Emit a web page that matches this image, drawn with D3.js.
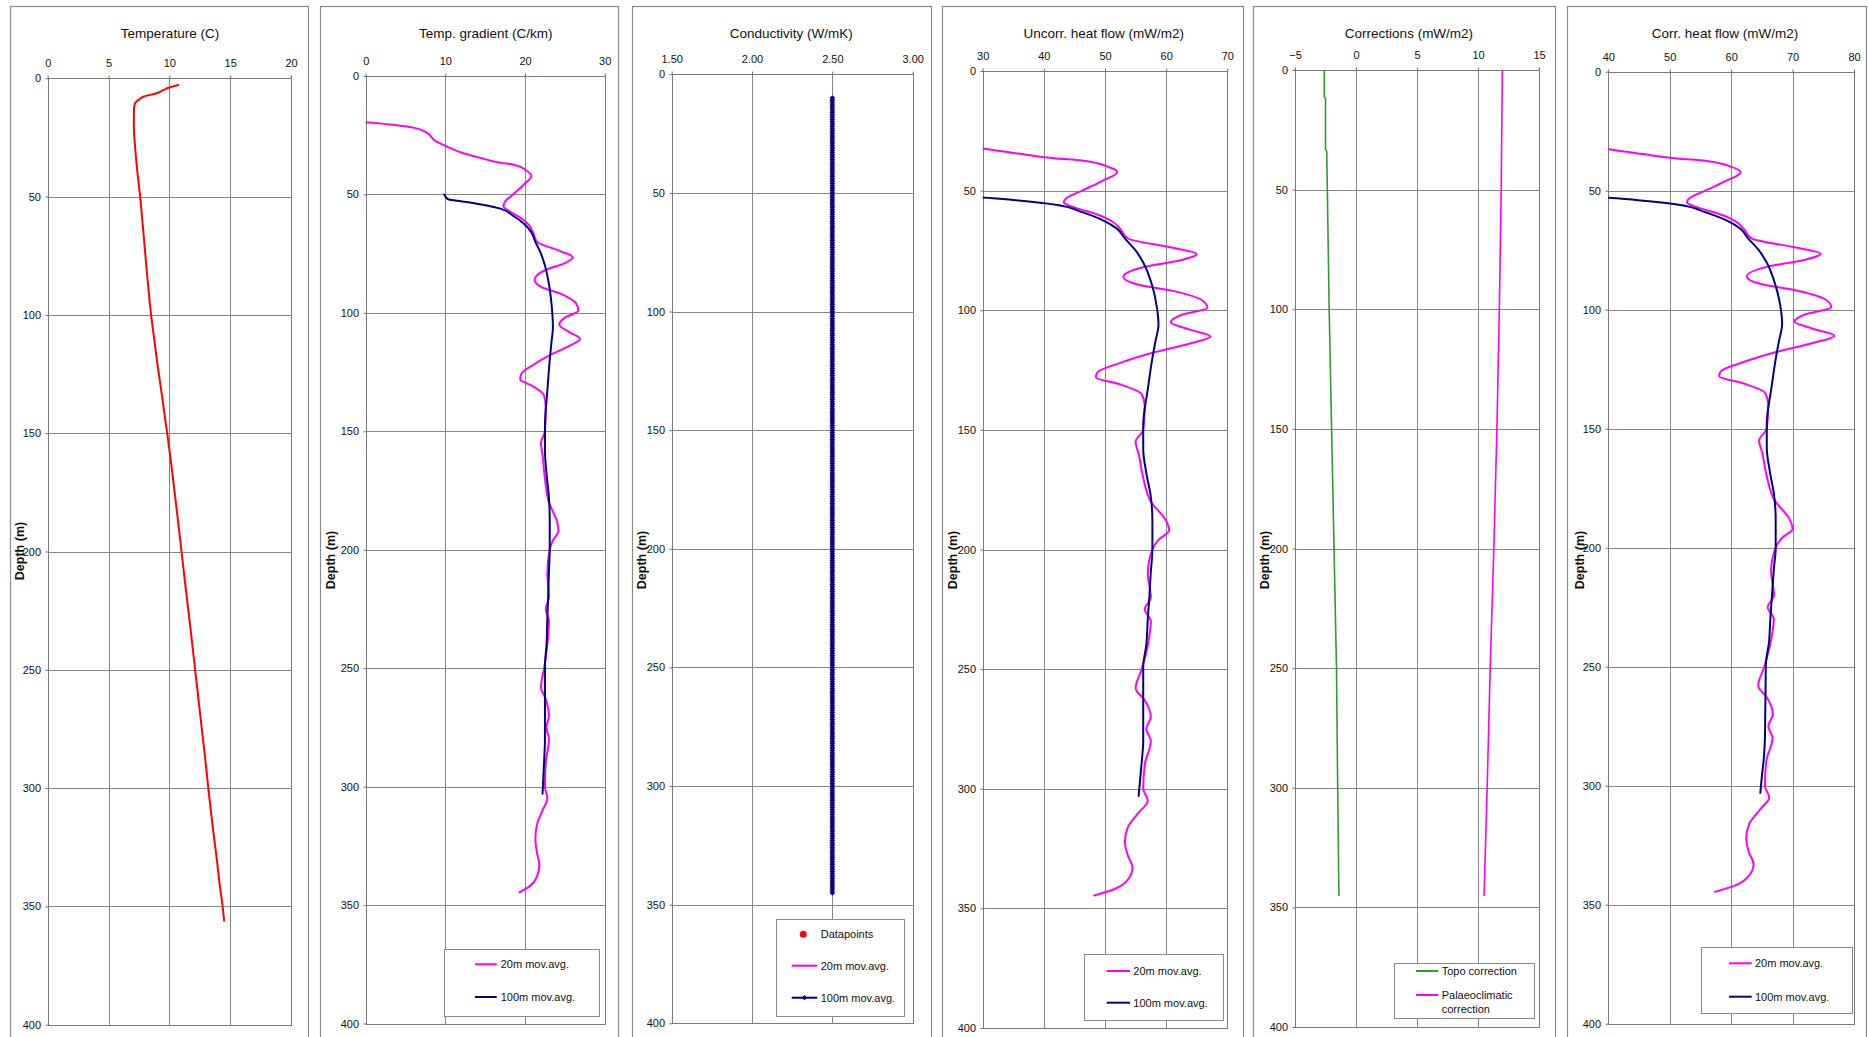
<!DOCTYPE html>
<html>
<head>
<meta charset="utf-8">
<script src="https://cdn.jsdelivr.net/npm/d3@7"></script>
<style>
  body { margin: 0; background: #fff; }
  svg { display: block; font-family: "Liberation Sans", Arial, sans-serif; }
</style>
</head>
<body>
<svg id="chart" width="1868" height="1037"></svg>
<script>
// ---- depth axis (shared by every track) ----
const depthTicks = [0, 50, 100, 150, 200, 250, 300, 350, 400];

// ---- temperature log: [depth m, temperature C] ----
const temperature = [
  [2.8,10.73],[3.8,10.05],[5,9.5],[6.3,8.95],[7.8,7.86],[9,7.5],[10.6,7.17],[13.4,7.09],
  [20,7.08],[30,7.2],[40,7.38],[50,7.6],[60,7.78],[70,7.95],[80,8.12],[90,8.3],[100,8.5],
  [110,8.75],[120,9.0],[130,9.28],[140,9.55],[150,9.82],[160,10.08],[170,10.32],[180,10.55],
  [190,10.78],[200,11.0],[210,11.22],[220,11.45],[230,11.68],[240,11.9],[250,12.12],
  [260,12.34],[270,12.56],[280,12.78],[290,13.0],[300,13.2],[310,13.42],[320,13.65],
  [330,13.9],[340,14.12],[350,14.38],[356,14.5]
];

// ---- temperature gradient, C/km: [depth, value] ----
const gradient20 = [
  [19.5,0],[20,1.8],[20.8,3.9],[21.8,6.0],[23.9,7.65],[27.3,8.7],[29.4,9.95],[32.6,12.25],
  [34.5,14.3],[36.6,16.85],[37.4,18.5],[40,20.2],[42.2,20.8],[46,19.8],[50,18.5],[53,17.5],
  [55,17.3],[57,18],[60,19.5],[63,20.5],[66,21],[70,21.5],[74,24.5],[76.5,26],[79,25],
  [82,22.5],[86,21.2],[89,22],[92,24.5],[96,26.4],[99,26.7],[102,25],[105,24.3],[108,25.5],
  [111,26.9],[114,25.5],[118,23],[122,21],[126,19.5],[128,19.4],[131,21],[135,22.4],
  [140,22.6],[150,22.5],[155,22],[160,22.2],[170,22.5],[180,23],[188,24],[192,24.2],
  [196,23.5],[200,23.1],[210,22.8],[220,23],[225,22.6],[230,23],[240,22.8],[250,22.4],
  [258,22],[263,22.6],[270,23],[275,22.7],[280,23],[290,22.6],[300,22.5],[305,22.8],
  [310,22.2],[316,21.5],[322,21.3],[328,21.5],[333,21.8],[338,21.5],[342,20.6],[344.6,19.3]
];
const gradient100 = [
  [50,9.85],[52,10.3],[53.4,13.1],[56,16.9],[59,18.5],[62.5,19.9],[66,20.8],[70,21.3],
  [75,22],[80,22.5],[90,23.1],[99,23.4],[106,23.5],[113,23.3],[120,23.1],[133,22.8],
  [148,22.5],[158,22.5],[168,22.7],[178,23],[188,23.1],[200,23.1],[209,23.0],[220,22.9],
  [229,22.8],[240,22.7],[249,22.5],[260,22.5],[269,22.5],[280,22.5],[289,22.4],[296,22.3],[303,22.2]
];

// ---- thermal conductivity, W/mK: logged from 10 m to 345 m at 1 m spacing ----
const conductivityTop = 10, conductivityBottom = 345, conductivityStep = 1;
const conductivityValue = 2.50;

// ---- uncorrected heat flow, mW/m2: [depth, value] ----
const uncorr20 = [
  [19.5,0],[20,4.5],[20.8,9.75],[21.8,15],[23.9,19.1],[27.3,21.75],[29.4,24.9],[32.6,30.6],
  [34.5,35.75],[36.6,42.1],[37.4,46.25],[40,50.5],[42.2,52],[46,49.5],[50,46.25],[53,43.75],
  [55,43.25],[57,45],[60,48.75],[63,51.25],[66,52.5],[70,53.75],[74,61.25],[76.5,65],
  [79,62.5],[82,56.25],[86,53],[89,55],[92,61.25],[96,66],[99,66.75],[102,62.5],[105,60.75],
  [108,63.75],[111,67.25],[114,63.75],[118,57.5],[122,52.5],[126,48.75],[128,48.5],
  [131,52.5],[135,56],[140,56.5],[150,56.25],[155,55],[160,55.5],[170,56.25],[180,57.5],
  [188,60],[192,60.5],[196,58.75],[200,57.75],[210,57],[220,57.5],[225,56.5],[230,57.5],
  [240,57],[250,56],[258,55],[263,56.5],[270,57.5],[275,56.75],[280,57.5],[290,56.5],
  [300,56.25],[305,57],[310,55.5],[316,53.75],[322,53.25],[328,53.75],[333,54.5],
  [338,53.75],[342,51.5],[344.6,48.25]
];
const uncorr100 = [
  [50,24.6],[52,25.75],[53.4,32.75],[56,42.25],[59,46.25],[62.5,49.75],[66,52],[70,53.25],
  [75,55],[80,56.25],[90,57.75],[99,58.5],[106,58.75],[113,58.25],[120,57.75],[133,57],
  [148,56.25],[158,56.25],[168,56.75],[178,57.5],[188,57.75],[200,57.75],[209,57.5],
  [220,57.25],[229,57],[240,56.75],[249,56.25],[260,56.25],[269,56.25],[280,56.25],
  [289,56],[296,55.75],[303,55.5]
];

// ---- corrections, mW/m2: [depth, value] ----
const topoCorrection = [
  [0,-2.6],[11,-2.6],[12,-2.5],[33,-2.5],[34,-2.4],[50,-2.35],[100,-2.2],[150,-2.0],
  [200,-1.8],[250,-1.6],[300,-1.5],[345,-1.4]
];
const palaeoCorrection = [
  [0,12.0],[50,11.9],[100,11.75],[150,11.55],[200,11.3],[250,11.0],[300,10.75],[345,10.5]
];

// ---- corrected heat flow, mW/m2: [depth, value] ----
const corr20 = [
  [19.5,9.5],[20,14],[20.8,19.25],[21.8,24.5],[23.9,28.6],[27.3,31.25],[29.4,34.4],[32.6,40.1],
  [34.5,45.25],[36.6,51.6],[37.4,55.75],[40,60.05],[42.2,61.55],[46,59.05],[50,55.8],
  [53,53.3],[55,52.8],[57,54.55],[60,58.3],[63,60.8],[66,62.05],[70,63.3],[74,70.8],
  [76.5,74.55],[79,72.05],[82,65.8],[86,62.55],[89,64.55],[92,70.8],[96,75.55],[99,76.3],
  [102,72.05],[105,70.3],[108,73.3],[111,76.8],[114,73.3],[118,67.05],[122,62.05],
  [126,58.3],[128,58.05],[131,62.05],[135,65.55],[140,66.05],[150,65.8],[155,64.55],
  [160,65.05],[170,65.8],[180,67.05],[188,69.5],[192,70.0],[196,68.25],[200,67.25],
  [210,66.5],[220,66.98],[225,65.95],[230,66.95],[240,66.4],[250,65.4],[258,64.4],
  [263,65.85],[270,66.8],[275,66.05],[280,66.75],[290,65.7],[300,65.5],[305,66.2],
  [310,64.7],[316,62.95],[322,62.45],[328,62.9],[333,63.65],[338,62.85],[342,60.6],[344.6,57.35]
];
const corr100 = [
  [50,34.1],[52,35.25],[53.4,42.25],[56,51.75],[59,55.75],[62.5,59.25],[66,61.5],[70,62.75],
  [75,64.5],[80,65.75],[90,67.25],[99,68.05],[106,68.3],[113,67.8],[120,67.3],[133,66.55],
  [148,65.8],[158,65.8],[168,66.3],[178,67.0],[188,67.25],[200,67.25],[209,66.95],
  [220,66.65],[229,66.4],[240,66.15],[249,65.65],[260,65.6],[269,65.55],[280,65.5],
  [289,65.3],[296,65.0],[303,64.75]
];

// ---- x-axis tick values per track ----
const tempTicks = [0, 5, 10, 15, 20];
const gradTicks = [0, 10, 20, 30];
const condTicks = [1.5, 2.0, 2.5, 3.0];
const uncorrTicks = [30, 40, 50, 60, 70];
const corrTicks = [-5, 0, 5, 10, 15];
const corrHfTicks = [40, 50, 60, 70, 80];

// ---- colours ----
const RED = "#ff0000", MAGENTA = "#ff00ff", NAVY = "#000080", GREEN = "#339933", GRID = "#868686";

const svg = d3.select("#chart");

// Track geometry: frame box (left, top, right) and plot box (x0, x1, y0, y1)
const tracks = [
  { title: "Temperature (C)", titleX: 170, ticks: tempTicks, fmt: d3.format("d"),
    frame: [9.5, 5.5, 307], plot: [47.7, 291, 78.3, 1024.7], labelPos: [20, 551] },
  { title: "Temp. gradient (C/km)", titleX: 485.7, ticks: gradTicks, fmt: d3.format("d"),
    frame: [320, 5.5, 618.3], plot: [365.7, 604.7, 76, 1023.5], labelPos: [331, 560] },
  { title: "Conductivity (W/mK)", titleX: 791.2, ticks: condTicks, fmt: d3.format(".2f"),
    frame: [631.5, 5.5, 930.5], plot: [671.7, 912.7, 74.3, 1023.3], labelPos: [642, 560] },
  { title: "Uncorr. heat flow (mW/m2)", titleX: 1103.7, ticks: uncorrTicks, fmt: d3.format("d"),
    frame: [941.7, 6, 1242.3], plot: [982.7, 1227.3, 71, 1028], labelPos: [953, 560] },
  { title: "Corrections (mW/m2)", titleX: 1409, ticks: corrTicks, fmt: d3.format("d"),
    frame: [1252.7, 6, 1554.3], plot: [1295, 1539, 70, 1027], labelPos: [1265, 560] },
  { title: "Corr. heat flow (mW/m2)", titleX: 1725, ticks: corrHfTicks, fmt: d3.format("d"),
    frame: [1566.7, 6, 1865.6], plot: [1608.3, 1854, 71.7, 1023.7], labelPos: [1580, 560] }
];

const snap = v => Math.round(v) + 0.5;

function buildTrack(t, i) {
  const g = svg.append("g");
  const [fx, fy, fx2] = t.frame;
  g.append("rect")
    .attr("x", snap(fx)).attr("y", snap(fy))
    .attr("width", Math.round(fx2 - fx)).attr("height", 1100)
    .attr("fill", "#fff").attr("stroke", "#8a8a8a").attr("stroke-width", 1.2);

  const [x0, x1, y0, y1] = t.plot;
  const x = d3.scaleLinear().domain(d3.extent(t.ticks)).range([x0, x1]);
  const y = d3.scaleLinear().domain([0, 400]).range([y0, y1]);

  // gridlines
  g.append("g").selectAll("line").data(t.ticks).join("line")
    .attr("x1", d => snap(x(d))).attr("x2", d => snap(x(d)))
    .attr("y1", snap(y0)).attr("y2", snap(y1))
    .attr("stroke", GRID).attr("stroke-width", 1);
  g.append("g").selectAll("line").data(depthTicks).join("line")
    .attr("x1", snap(x0)).attr("x2", snap(x1))
    .attr("y1", d => snap(y(d))).attr("y2", d => snap(y(d)))
    .attr("stroke", GRID).attr("stroke-width", 1);

  // plot-area border
  g.append("rect")
    .attr("x", snap(x0)).attr("y", snap(y0))
    .attr("width", Math.round(x1) - Math.round(x0)).attr("height", Math.round(y1) - Math.round(y0))
    .attr("fill", "none").attr("stroke", "#7a7a7a");

  // axes
  const top = g.append("g").attr("transform", `translate(0,${snap(y0)})`)
    .call(d3.axisTop(x).tickValues(t.ticks).tickFormat(t.fmt).tickSize(3).tickPadding(8.5));
  const left = g.append("g").attr("transform", `translate(${snap(x0)},0)`)
    .call(d3.axisLeft(y).tickValues(depthTicks).tickFormat(d3.format("d")).tickSize(3).tickPadding(4.5));
  [top, left].forEach(a => {
    a.select(".domain").remove();
    a.selectAll(".tick line").attr("stroke", "#6e6e6e");
    a.selectAll(".tick text").attr("fill", "#111").attr("font-size", 11)
      .attr("font-family", '"Liberation Sans", Arial, sans-serif');
  });

  // title
  g.append("text").attr("x", t.titleX).attr("y", 38).attr("text-anchor", "middle")
    .attr("font-size", 13.5).attr("fill", "#111").text(t.title);

  // depth label
  g.append("text")
    .attr("transform", `translate(${t.labelPos[0]},${t.labelPos[1]}) rotate(-90)`)
    .attr("text-anchor", "middle").attr("dy", "0.35em")
    .attr("font-size", 12.5).attr("font-weight", "bold").attr("fill", "#111").text("Depth (m)");

  // clip region for data
  const clipId = "clip" + i;
  svg.append("clipPath").attr("id", clipId).append("rect")
    .attr("x", x0).attr("y", y0).attr("width", x1 - x0).attr("height", y1 - y0);
  const data = g.append("g").attr("clip-path", `url(#${clipId})`);
  return { g, x, y, data };
}

const built = tracks.map(buildTrack);

// depth increases down the page, so a curve monotone in y keeps the logs smooth
function curve(track, series, color, width, smooth) {
  const line = d3.line().x(d => track.x(d[1])).y(d => track.y(d[0]))
    .curve(smooth ? d3.curveMonotoneY : d3.curveLinear);
  track.data.append("path").datum(series).attr("d", line)
    .attr("fill", "none").attr("stroke", color).attr("stroke-width", width)
    .attr("stroke-linejoin", "round").attr("stroke-linecap", "round");
}

// diamond marker path centred on 0,0
const diamond = r => `M0,${-r}L${r},0L0,${r}L${-r},0Z`;

// Track 1: temperature
curve(built[0], temperature, RED, 2, true);

// Track 2: temperature gradient
curve(built[1], gradient20, MAGENTA, 2, true);
curve(built[1], gradient100, NAVY, 2, true);

// Track 3: conductivity (datapoints, 20 m and 100 m averages coincide)
{
  const t = built[2];
  const depths = d3.range(conductivityTop, conductivityBottom + conductivityStep, conductivityStep);
  const pts = depths.map(d => [d, conductivityValue]);
  t.data.selectAll("circle.dp").data(pts).join("circle").attr("class", "dp")
    .attr("cx", d => t.x(d[1])).attr("cy", d => t.y(d[0])).attr("r", 2).attr("fill", RED);
  curve(t, pts, MAGENTA, 2, false);
  curve(t, pts, NAVY, 2.5, false);
  t.data.selectAll("path.mk").data(pts).join("path").attr("class", "mk")
    .attr("d", diamond(2.6))
    .attr("transform", d => `translate(${t.x(d[1])},${t.y(d[0])})`)
    .attr("fill", NAVY).attr("stroke", "#1a1a9a").attr("stroke-width", 0.4);
}

// Track 4: uncorrected heat flow
curve(built[3], uncorr20, MAGENTA, 2, true);
curve(built[3], uncorr100, NAVY, 2, true);

// Track 5: corrections
curve(built[4], topoCorrection, GREEN, 1.6, false);
curve(built[4], palaeoCorrection, MAGENTA, 1.6, false);

// Track 6: corrected heat flow
curve(built[5], corr20, MAGENTA, 2, true);
curve(built[5], corr100, NAVY, 2, true);

// ---- legends ----
function legendBox(x, y, x2, y2) {
  svg.append("rect").attr("x", snap(x)).attr("y", snap(y))
    .attr("width", Math.round(x2 - x)).attr("height", Math.round(y2 - y))
    .attr("fill", "#fff").attr("stroke", "#8a8a8a");
}
function legendLine(xa, xb, y, color, label, tx, marker) {
  svg.append("line").attr("x1", xa).attr("x2", xb).attr("y1", y).attr("y2", y)
    .attr("stroke", color).attr("stroke-width", 2);
  if (marker) {
    svg.append("path").attr("d", diamond(2.6))
      .attr("transform", `translate(${(xa + xb) / 2},${y})`).attr("fill", color);
  }
  if (label) {
    svg.append("text").attr("x", tx).attr("y", y).attr("dy", "0.35em")
      .attr("font-size", 11).attr("fill", "#111").text(label);
  }
}

legendBox(444.3, 948.7, 599, 1015.3);
legendLine(475, 496.7, 964.3, MAGENTA, "20m mov.avg.", 500.7);
legendLine(475, 496.7, 997, NAVY, "100m mov.avg.", 500.7);

legendBox(775.7, 919.3, 904, 1016);
svg.append("circle").attr("cx", 803.3).attr("cy", 934.3).attr("r", 3.5).attr("fill", RED);
svg.append("text").attr("x", 820.7).attr("y", 934.3).attr("dy", "0.35em")
  .attr("font-size", 11).attr("fill", "#111").text("Datapoints");
legendLine(791.7, 817.3, 965.7, MAGENTA, "20m mov.avg.", 820.7);
legendLine(791.7, 817.3, 997.7, NAVY, "100m mov.avg.", 820.7, true);

legendBox(1084.3, 954.3, 1223.3, 1020.3);
legendLine(1106.7, 1130, 971, MAGENTA, "20m mov.avg.", 1133.3);
legendLine(1106.7, 1130, 1002.7, NAVY, "100m mov.avg.", 1133.3);

legendBox(1394.3, 963.3, 1534.3, 1018.7);
legendLine(1416, 1438.3, 971, GREEN, "Topo correction", 1441.7);
legendLine(1416, 1438.3, 995, MAGENTA, "Palaeoclimatic", 1441.7);
svg.append("text").attr("x", 1441.7).attr("y", 1009).attr("dy", "0.35em")
  .attr("font-size", 11).attr("fill", "#111").text("correction");

legendBox(1700.7, 947.3, 1851.3, 1013.3);
legendLine(1729, 1751.7, 963.3, MAGENTA, "20m mov.avg.", 1755);
legendLine(1729, 1751.7, 996.7, NAVY, "100m mov.avg.", 1755);
</script>
</body>
</html>
